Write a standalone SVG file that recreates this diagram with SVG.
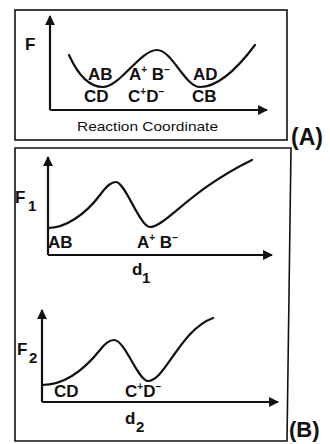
<svg xmlns="http://www.w3.org/2000/svg" width="330" height="444" viewBox="0 0 330 444">
<style>
.box{fill:none;stroke:#111;stroke-width:1.6}
.ax{fill:none;stroke:#111;stroke-width:2.2}
.cv{fill:none;stroke:#111;stroke-width:2.2;stroke-linecap:round}
.lb{font-family:"Liberation Sans",Arial,sans-serif;font-weight:bold;font-size:17px;fill:#111}
.sm{font-size:10px}
.rc{font-family:"Liberation Sans",Arial,sans-serif;font-size:13px;fill:#111}
.tag{font-family:"Liberation Sans",Arial,sans-serif;font-weight:bold;font-size:23px;fill:#111}
</style>
<defs>
<marker id="ar" viewBox="0 0 10 10" refX="9" refY="5" markerWidth="4.5" markerHeight="4.5" orient="auto" markerUnits="strokeWidth">
<path d="M0,0 L10,5 L0,10 z" fill="#111"/>
</marker>
</defs>
<rect width="330" height="444" fill="#fff"/>
<g id="panelA">
<rect class="box" x="15" y="10" width="272" height="130"/>
<text class="lb" x="25" y="50">F</text>
<text class="rc" x="77" y="131" textLength="141" lengthAdjust="spacingAndGlyphs">Reaction Coordinate</text>
<text class="tag" x="291" y="145">(A)</text>
</g>
<g id="panelB">
<path class="box" d="M15,148 L291,148 L287,441 L15,441 Z"/>
<text class="tag" x="289" y="437" style="font-size:22px">(B)</text>
</g>
<g id="connectors">
<path class="ax" d="M50,110 L50,16" marker-end="url(#ar)"/>
<path class="ax" d="M50,110 L267,110" marker-end="url(#ar)"/>
<path class="cv" d="M69,55 C78,75 90,87 103,87 C120,87 140,50 157,50 C172,50 185,87 200,87 C220,87 240,65 255,45"/>
<path class="ax" d="M48,255 L48,157" marker-end="url(#ar)"/>
<path class="ax" d="M48,255 L272,255" marker-end="url(#ar)"/>
<path class="cv" d="M48,228 C65,228 85,215 100,195 C108,184 112,182 116,182 C125,182 140,227 150,227 C165,227 190,190 252,160"/>
<path class="ax" d="M42,402 L42,310" marker-end="url(#ar)"/>
<path class="ax" d="M42,402 L278,402" marker-end="url(#ar)"/>
<path class="cv" d="M42,385 C60,385 80,375 100,350 C106,342 110,340 114,340 C125,340 138,381 148,381 C165,381 180,330 213,318"/>
</g>
<g id="labelsA">
<text class="lb" x="88" y="80">AB</text>
<text class="lb" x="84" y="102">CD</text>
<text class="lb" x="129" y="80">A<tspan class="sm" dy="-7">+</tspan><tspan dy="7"> B</tspan><tspan class="sm" dy="-7">−</tspan></text>
<text class="lb" x="128" y="102">C<tspan class="sm" dy="-7">+</tspan><tspan dy="7">D</tspan><tspan class="sm" dy="-7">−</tspan></text>
<text class="lb" x="193" y="80">AD</text>
<text class="lb" x="192" y="102">CB</text>
</g>
<g id="labelsB1">
<text class="lb" x="15" y="203">F</text>
<text class="lb" x="28" y="211" style="font-size:15px">1</text>
<text class="lb" x="48" y="248">AB</text>
<text class="lb" x="137" y="248">A<tspan class="sm" dy="-7">+</tspan><tspan dy="7"> B</tspan><tspan class="sm" dy="-7">−</tspan></text>
<text class="lb" x="132" y="275">d</text>
<text class="lb" x="142" y="283" style="font-size:15px">1</text>
</g>
<g id="labelsB2">
<text class="lb" x="17" y="355">F</text>
<text class="lb" x="29" y="363" style="font-size:15px">2</text>
<text class="lb" x="54" y="397">CD</text>
<text class="lb" x="125" y="397">C<tspan class="sm" dy="-7">+</tspan><tspan dy="7">D</tspan><tspan class="sm" dy="-7">−</tspan></text>
<text class="lb" x="125" y="424">d</text>
<text class="lb" x="136" y="432" style="font-size:15px">2</text>
</g>
</svg>
